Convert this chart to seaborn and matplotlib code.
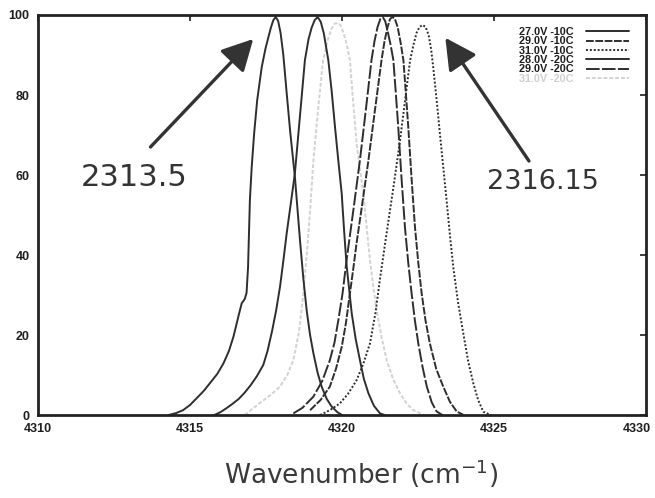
import matplotlib
matplotlib.use("Agg")
import matplotlib.pyplot as plt
import matplotlib.transforms as mtransforms
import seaborn as sns
import pandas as pd

sns.set_theme(style="white")
plt.rcParams["font.family"] = ["DejaVu Sans"]

# Emission profiles: wavenumber (cm^-1) and relative intensity
labels = ["27.0V -10C", "29.0V -10C", "31.0V -10C", "28.0V -20C", "29.0V -20C", "31.0V -20C"]

wn_27v_10c = [4314.30, 4314.55, 4314.77, 4315.00, 4315.22, 4315.45, 4315.66, 4315.90, 4316.10,
              4316.28, 4316.43, 4316.59, 4316.70, 4316.80, 4316.86, 4316.91, 4316.94, 4316.97,
              4317.03, 4317.11, 4317.21, 4317.36, 4317.48, 4317.58, 4317.66, 4317.74, 4317.82,
              4317.90, 4317.98, 4318.07, 4318.18, 4318.30, 4318.45, 4318.62, 4318.73, 4318.84,
              4318.95, 4319.06, 4319.20, 4319.33, 4319.50, 4319.66, 4319.85, 4320.00]
int_27v_10c = [0.0, 0.5, 1.2, 2.5, 4.2, 6.0, 8.0, 10.3, 12.9,
               16.0, 19.6, 24.6, 27.9, 29.0, 30.5, 37.0, 45.4, 53.7,
               62.0, 70.4, 78.7, 87.0, 91.5, 94.5, 96.8, 98.7, 99.5,
               98.5, 95.5, 90.0, 80.5, 70.5, 59.6, 43.5, 34.0, 26.0,
               20.0, 15.4, 10.5, 7.1, 4.0, 2.1, 0.7, 0.0]

wn_28v_20c = [4315.80, 4316.00, 4316.20, 4316.40, 4316.60, 4316.80, 4317.00, 4317.20, 4317.41,
              4317.55, 4317.70, 4317.83, 4317.96, 4318.07, 4318.18, 4318.30, 4318.45, 4318.62,
              4318.78, 4318.90, 4319.00, 4319.10, 4319.20, 4319.30, 4319.40, 4319.55, 4319.66,
              4319.77, 4319.88, 4319.99, 4320.07, 4320.15, 4320.32, 4320.45, 4320.59, 4320.72,
              4320.87, 4321.05, 4321.25, 4321.40]
int_28v_20c = [0.0, 0.7, 1.7, 2.8, 4.0, 5.6, 7.5, 9.7, 12.5,
               16.0, 21.0, 26.0, 32.0, 38.5, 45.4, 52.0, 60.4, 75.0,
               88.7, 94.0, 96.8, 98.7, 99.5, 98.3, 95.5, 88.7, 81.0,
               72.0, 63.5, 55.4, 46.0, 37.5, 25.4, 19.0, 13.7, 9.0,
               5.4, 2.3, 0.4, 0.0]

wn_29v_20c = [4318.40, 4318.70, 4319.06, 4319.35, 4319.60, 4319.75, 4319.88, 4320.02, 4320.15,
              4320.37, 4320.59, 4320.78, 4320.97, 4321.07, 4321.17, 4321.26, 4321.34, 4321.42,
              4321.50, 4321.60, 4321.69, 4321.77, 4321.85, 4321.96, 4322.07, 4322.18, 4322.29,
              4322.40, 4322.51, 4322.65, 4322.79, 4322.95, 4323.11, 4323.30]
int_29v_20c = [0.4, 1.8, 4.6, 8.5, 13.7, 18.0, 23.7, 30.5, 38.7,
               51.0, 63.7, 76.0, 88.7, 93.5, 97.0, 99.0, 99.5, 98.5,
               96.0, 92.5, 88.7, 80.5, 72.0, 59.0, 47.0, 38.0, 30.4,
               23.5, 17.9, 12.0, 7.1, 3.2, 0.9, 0.0]

wn_29v_10c = [4318.95, 4319.30, 4319.60, 4319.80, 4319.99, 4320.13, 4320.26, 4320.37, 4320.48,
              4320.67, 4320.87, 4321.08, 4321.30, 4321.40, 4321.50, 4321.58, 4321.66, 4321.74,
              4321.83, 4321.93, 4322.02, 4322.10, 4322.18, 4322.29, 4322.40, 4322.51, 4322.62,
              4322.75, 4322.89, 4323.10, 4323.33, 4323.55, 4323.77, 4324.00]
int_29v_10c = [1.2, 3.8, 7.1, 11.5, 17.0, 23.0, 30.4, 36.5, 43.0,
               53.0, 63.7, 76.0, 88.7, 93.5, 97.0, 99.0, 99.5, 99.0,
               97.0, 93.0, 88.7, 80.5, 72.0, 59.0, 47.0, 38.0, 30.4,
               23.5, 17.9, 11.5, 7.1, 3.3, 0.9, 0.0]

wn_31v_10c = [4319.28, 4319.60, 4319.93, 4320.20, 4320.48, 4320.70, 4320.92, 4321.10, 4321.25,
              4321.42, 4321.58, 4321.75, 4321.91, 4322.08, 4322.24, 4322.35, 4322.45, 4322.55,
              4322.65, 4322.75, 4322.85, 4322.93, 4323.00, 4323.11, 4323.22, 4323.33, 4323.44,
              4323.55, 4323.66, 4323.82, 4323.99, 4324.15, 4324.32, 4324.48, 4324.65, 4324.90]
int_31v_10c = [0.0, 1.2, 2.9, 5.3, 8.7, 12.8, 17.9, 25.5, 34.0,
               43.0, 51.2, 60.0, 68.7, 79.0, 88.7, 92.5, 95.5, 97.0,
               97.5, 97.0, 95.0, 91.5, 87.0, 79.0, 70.4, 62.0, 53.7,
               45.0, 37.0, 28.0, 20.4, 13.5, 7.9, 3.7, 0.8, 0.0]

wn_31v_20c = [4316.80, 4317.05, 4317.30, 4317.65, 4317.96, 4318.20, 4318.40, 4318.58, 4318.73,
              4318.85, 4318.95, 4319.06, 4319.22, 4319.38, 4319.52, 4319.65, 4319.75, 4319.85,
              4319.95, 4320.05, 4320.16, 4320.26, 4320.37, 4320.48, 4320.59, 4320.70, 4320.81,
              4320.92, 4321.03, 4321.14, 4321.30, 4321.47, 4321.68, 4321.91, 4322.13, 4322.35,
              4322.70]
int_31v_20c = [0.0, 1.5, 3.0, 5.0, 7.1, 10.0, 13.7, 20.5, 30.4,
               41.0, 51.0, 63.7, 77.0, 88.7, 93.5, 96.5, 97.8, 98.0,
               97.5, 95.5, 92.5, 88.7, 78.0, 68.0, 61.5, 55.4, 47.0,
               38.7, 32.0, 26.2, 19.5, 13.7, 9.0, 5.4, 2.8, 1.2,
               0.0]

series = {
    "27.0V -10C": (wn_27v_10c, int_27v_10c),
    "29.0V -10C": (wn_29v_10c, int_29v_10c),
    "31.0V -10C": (wn_31v_10c, int_31v_10c),
    "28.0V -20C": (wn_28v_20c, int_28v_20c),
    "29.0V -20C": (wn_29v_20c, int_29v_20c),
    "31.0V -20C": (wn_31v_20c, int_31v_20c),
}

df = pd.concat(
    [pd.DataFrame({"wavenumber": x, "intensity": y, "run": name}) for name, (x, y) in series.items()],
    ignore_index=True,
)

dark = "#2e2e2e"
styles = {
    "27.0V -10C": dict(color=dark, linestyle="-"),
    "29.0V -10C": dict(color=dark, linestyle=(0, (4, 0.8))),
    "31.0V -10C": dict(color=dark, linestyle=(0, (1, 1))),
    "28.0V -20C": dict(color=dark, linestyle="-"),
    "29.0V -20C": dict(color=dark, linestyle=(0, (7, 1.2))),
    "31.0V -20C": dict(color="#d2d2d2", linestyle=(0, (2, 1))),
}

fig = plt.figure(figsize=(6.55, 4.98), dpi=100)
ax = fig.add_axes([38 / 655, 83 / 498, 608 / 655, 400 / 498])

# light trace first so the dark ones sit on top
draw_order = ["31.0V -20C", "27.0V -10C", "28.0V -20C", "29.0V -20C", "29.0V -10C", "31.0V -10C"]
for name in draw_order:
    sub = df[df["run"] == name]
    sns.lineplot(data=sub, x="wavenumber", y="intensity", ax=ax, sort=False,
                 estimator=None, label=name, linewidth=1.4, **styles[name])

xticks = [4310, 4315, 4320, 4325, 4330]
yticks = [0, 20, 40, 60, 80, 100]
ax.set_xlim(4310, 4330)
ax.set_ylim(0, 100)
ax.set_xticks(xticks)
ax.set_yticks(yticks)
ax.set_xlabel("")
ax.set_ylabel("")
tick_font = dict(family="Liberation Sans", weight="bold", size=9)
ax.set_xticklabels([str(t) for t in xticks], fontdict=tick_font, color="#1e1e1e")
ax.set_yticklabels([str(t) for t in yticks], fontdict=tick_font, color="#1e1e1e")
ax.tick_params(direction="in", length=4, width=1.2, top=True, right=True, colors="#1e1e1e")
ax.tick_params(axis="x", pad=6)
ax.tick_params(axis="y", pad=6)
# keep the last x label inside the figure edge
last = ax.get_xticklabels()[-1]
last.set_transform(last.get_transform() + mtransforms.ScaledTranslation(-9 / 100, 0, fig.dpi_scale_trans))
for sp in ax.spines.values():
    sp.set_color("#222222")
    sp.set_linewidth(2.0)

# legend in the upper right corner, label before line sample
handles, lbls = ax.get_legend_handles_labels()
order = [lbls.index(l) for l in labels]
leg = ax.legend([handles[i] for i in order], [lbls[i] for i in order],
                loc="upper right", bbox_to_anchor=(0.972, 0.97), frameon=False,
                markerfirst=False, handlelength=4.0, handletextpad=1.1,
                labelspacing=-0.06, borderpad=0, borderaxespad=0,
                prop=dict(family="Liberation Sans", weight="bold", size=7.8))
for txt in leg.get_texts():
    txt.set_color("#1e1e1e")
leg.get_texts()[-1].set_color("#d0d0d0")

# arrows pointing at the two extreme peaks
arrow_kw = dict(arrowstyle="-|>,head_length=0.95,head_width=0.5", color="#333333",
                lw=2.4, mutation_scale=20, shrinkA=0, shrinkB=0)
ax.annotate("", xy=(4317.08, 94.0), xytext=(4313.70, 67.0), arrowprops=arrow_kw)
ax.annotate("", xy=(4323.40, 94.3), xytext=(4326.15, 63.5), arrowprops=arrow_kw)
ax.text(4313.15, 59.3, "2313.5", ha="center", va="center", fontsize=22, color="#333333")
ax.text(4326.62, 58.2, "2316.15", ha="center", va="center", fontsize=19.5, color="#333333")

fig.text(361 / 655, 1 - 474 / 498, "Wavenumber (cm$^{-1}$)", ha="center", va="center",
         fontsize=19, color="#3a3a3a")

fig.savefig("out.png", dpi=100, facecolor="white")
